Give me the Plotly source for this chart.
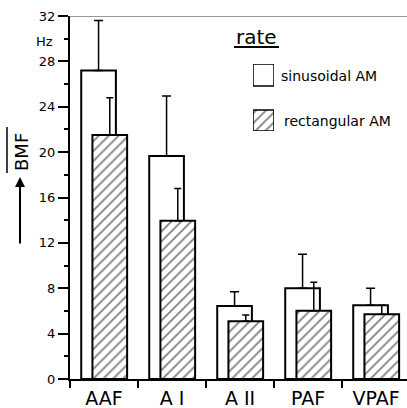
import plotly.graph_objects as go

# ---- data ----
categories = ["AAF", "A I", "A II", "PAF", "VPAF"]
sinus_mean = [27.2, 19.65, 6.43, 8.0, 6.5]
sinus_err = [4.4, 5.3, 1.27, 3.0, 1.5]
rect_mean = [21.5, 13.95, 5.1, 6.02, 5.7]
rect_err = [3.3, 2.85, 0.55, 2.5, 0.8]
y_ticks = [0, 4, 8, 12, 16, 20, 24, 28, 32]
series_names = ["sinusoidal AM", "rectangular AM"]
legend_title = "rate"
y_title = "BMF"
y_unit = "Hz"

# ---- layout constants (pixels) ----
W, H = 407, 408
L, R, T, B = 70, 0, 16, 29
PW, PH = W - L - R, H - T - B
GROUP = 68.0


def px(x):
    return (x - L) / PW


def py(y):
    return (H - B - y) / PH


FONT = "DejaVu Sans"
BAR_W = 0.51
hatch = dict(shape="/", size=7, solidity=0.25, fgcolor="black", bgcolor="white", fillmode="overlay")

fig = go.Figure()
fig.add_trace(go.Bar(
    x=categories, y=sinus_mean, name=series_names[0],
    width=BAR_W, offset=-0.335,
    marker=dict(color="white", line=dict(color="black", width=2)),
    error_y=dict(type="data", symmetric=False, array=sinus_err,
                 arrayminus=[0] * len(sinus_err), color="black", thickness=1.5, width=4.5),
    showlegend=False,
))
fig.add_trace(go.Bar(
    x=categories, y=rect_mean, name=series_names[1],
    width=BAR_W, offset=-0.17,
    marker=dict(color="white", line=dict(color="black", width=2), pattern=hatch),
    error_y=dict(type="data", symmetric=False, array=rect_err,
                 arrayminus=[0] * len(rect_err), color="black", thickness=1.5, width=3.5),
    showlegend=False,
))

# legend boxes drawn as bars in a small helper axis
fig.add_trace(go.Bar(x=[0], y=[22], base=[45], width=1, xaxis="x2", yaxis="y2",
                     marker=dict(color="white", line=dict(color="black", width=1.5)),
                     showlegend=False, hoverinfo="skip", cliponaxis=False))
fig.add_trace(go.Bar(x=[0], y=[21], base=[0], width=1, xaxis="x2", yaxis="y2",
                     marker=dict(color="white", line=dict(color="black", width=1.5), pattern=hatch),
                     showlegend=False, hoverinfo="skip", cliponaxis=False))

fig.update_layout(
    width=W, height=H,
    margin=dict(l=L, r=R, t=T, b=B, pad=0, autoexpand=False),
    paper_bgcolor="white", plot_bgcolor="white",
    barmode="overlay",
    font=dict(family=FONT, color="black"),
    xaxis=dict(
        type="category", range=[-0.5, -0.5 + PW / GROUP], automargin=False,
        showline=True, linecolor="black", linewidth=2,
        ticks="outside", tickson="boundaries", ticklen=7, tickwidth=1.5, tickcolor="black",
        tickfont=dict(size=19, family=FONT), showgrid=False, zeroline=False,
        ticklabelstandoff=1,
    ),
    yaxis=dict(
        range=[0, 32], tickvals=y_ticks, automargin=False,
        showline=True, linecolor="black", linewidth=2,
        ticks="outside", ticklen=10, tickwidth=1.5, tickcolor="black",
        tickfont=dict(size=13, family=FONT), showgrid=False, zeroline=False,
        minor=dict(dtick=2, ticks="outside", ticklen=4, tickwidth=1.5, tickcolor="black"),
    ),
    xaxis2=dict(domain=[px(253), px(274)], range=[-0.5, 0.5], anchor="y2",
                visible=False, fixedrange=True),
    yaxis2=dict(domain=[py(131), py(64)], range=[0, 67], anchor="x2",
                visible=False, fixedrange=True),
)

# top frame line
fig.add_shape(type="line", xref="paper", yref="y", x0=px(64), x1=1, y0=32, y1=32,
              line=dict(color="#333", width=1))

# legend texts
fig.add_annotation(text=legend_title, xref="paper", yref="paper", x=px(256), y=py(37),
                   showarrow=False, font=dict(size=20, family=FONT), xanchor="center", yanchor="middle")
fig.add_shape(type="line", xref="paper", yref="paper", x0=px(234), x1=px(279), y0=py(47), y1=py(47),
              line=dict(color="black", width=2))
fig.add_annotation(text=series_names[0], xref="paper", yref="paper", x=px(279), y=py(76),
                   showarrow=False, font=dict(size=14, family=FONT), xanchor="left", yanchor="middle")
fig.add_annotation(text=series_names[1], xref="paper", yref="paper", x=px(282), y=py(121),
                   showarrow=False, font=dict(size=14, family=FONT), xanchor="left", yanchor="middle")

# unit label
fig.add_annotation(text=y_unit, xref="paper", yref="paper", x=px(44), y=py(42),
                   showarrow=False, font=dict(size=13, family=FONT), xanchor="center", yanchor="middle")

# y title with overline and arrow
fig.add_annotation(text=y_title, xref="paper", yref="paper", x=px(21), y=py(152), textangle=-90,
                   showarrow=False, font=dict(size=18, family=FONT), xanchor="center", yanchor="middle")
fig.add_shape(type="line", xref="paper", yref="paper", x0=px(7), x1=px(7), y0=py(127), y1=py(173),
              line=dict(color="black", width=1.5))
fig.add_annotation(text="", xref="paper", yref="paper", x=px(20), y=py(177), ax=0, ay=68,
                   showarrow=True, arrowhead=2, arrowsize=1, arrowwidth=2, arrowcolor="black")

fig.write_html("out.html", config={"displayModeBar": False},
               post_script="document.body.style.margin='0px';document.body.style.padding='0px';")
